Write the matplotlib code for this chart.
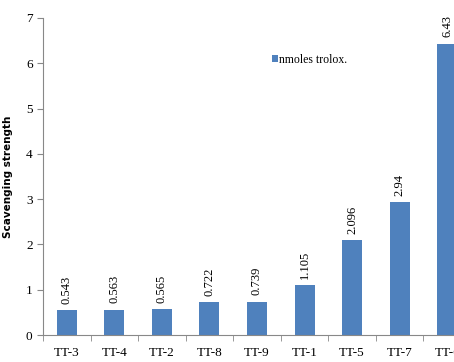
import numpy as np
import matplotlib
matplotlib.use("Agg")
from matplotlib import pyplot as plt

#-----------------------------------------------------------------------------------------

samples = ["TT-3", "TT-4", "TT-2", "TT-8", "TT-9", "TT-1", "TT-5", "TT-7", "TT-6"]
trolox  = [0.543, 0.563, 0.565, 0.722, 0.739, 1.105, 2.096, 2.94, 6.43]
labels  = ["0.543", "0.563", "0.565", "0.722", "0.739", "1.105", "2.096", "2.94", "6.43"]

#-----------------------------------------------------------------------------------------

serif = "Liberation Serif"
blue = "#4F81BD"

fig = plt.figure(figsize=(4.54, 3.62), dpi=100)
ax = fig.add_axes([43/454, 27/362, 428/454, 317/362])

x = np.arange(len(samples))
bars = ax.bar(x, trolox, width=0.42, color=blue, label="nmoles trolox.")

for xi, v, t in zip(x, trolox, labels):
    ax.text(xi, v + 0.14, t, rotation=90, ha="center", va="bottom",
            family=serif, fontsize=9)

ax.set_xlim(-0.5, len(samples) - 0.5)
ax.set_ylim(0, 7)
ax.set_yticks(range(0, 8))
ax.set_xticks(x)
ax.set_xticklabels(samples, family=serif, fontsize=9.5)
ax.set_xticks(np.arange(-0.5, len(samples)), minor=True)
ax.tick_params(axis="x", which="major", length=0, pad=9)
ax.tick_params(axis="x", which="minor", length=4, color="#888888", direction="out")
ax.tick_params(axis="y", length=4, color="#888888", labelsize=9.5)
for lab in ax.get_yticklabels():
    lab.set_family(serif)

for s in ["top", "right"]:
    ax.spines[s].set_visible(False)
for s in ["left", "bottom"]:
    ax.spines[s].set_color("#888888")

ax.set_ylabel("Scavenging strength", fontsize=7.5, fontweight="bold", labelpad=9)

leg = ax.legend(loc="upper left", bbox_to_anchor=(0.51, 0.92), frameon=False,
                prop={"family": serif, "size": 8.5}, handlelength=0.5,
                handleheight=0.5, handletextpad=0.1)

fig.savefig("out.png", dpi=100)
